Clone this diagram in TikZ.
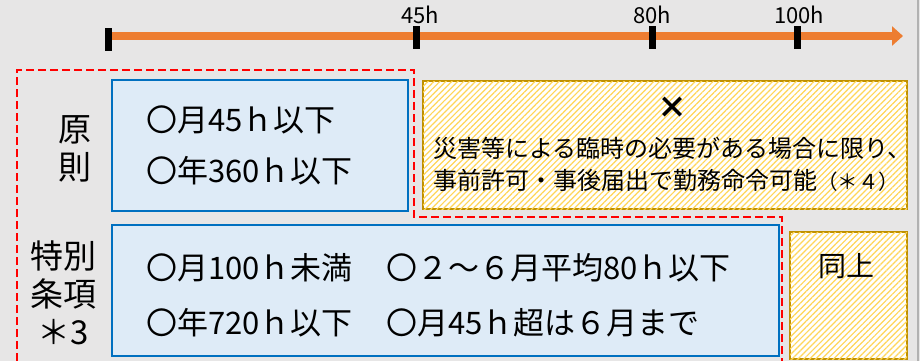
\documentclass[tikz,border=0pt]{standalone}
\usepackage{fontspec}
\setmainfont{Noto Sans CJK JP}
\usetikzlibrary{positioning, arrows.meta, patterns.meta}

\definecolor{bggray}{HTML}{E7E6E6}
\definecolor{axisorange}{HTML}{ED7D31}
\definecolor{boxblue}{HTML}{0070C0}
\definecolor{fillblue}{HTML}{DEEBF7}
\definecolor{boxgold}{HTML}{BF9000}
\definecolor{hatchyellow}{HTML}{FFD658}

\tikzset{
  tick/.style={fill=black, inner sep=0pt, minimum width=7pt, minimum height=23pt},
  hlabel/.style={font=\fontsize{22}{22}\selectfont, inner sep=0pt},
  bluebox/.style={draw=boxblue, fill=fillblue, line width=2pt, inner sep=0pt},
  hatchbox/.style={draw=boxgold, line width=2pt, fill=white, inner sep=0pt,
    postaction={pattern={Lines[angle=45, distance=4.2pt, line width=1.2pt]}, pattern color=hatchyellow}},
  rowtext/.style={anchor=west, inner sep=0pt, font=\fontsize{31}{31}\selectfont},
  sidetext/.style={inner sep=0pt, align=center, font=\fontsize{33}{38}\selectfont},
  notetext/.style={anchor=west, inner sep=0pt, font=\fontsize{24}{24}\selectfont},
}

\begin{document}
\begin{tikzpicture}[x=1pt, y=-1pt]
  \fill[bggray] (0,0) rectangle (920,361);
  \useasboundingbox (0,0) rectangle (920,361);
  \draw[gray!60, line width=1.5pt] (918,0) -- (918,361);

  % time axis
  \coordinate (axstart) at (108,36);
  \coordinate (axend) at (903,36);
  \draw[axisorange, line width=8pt, -{Triangle[length=11pt, width=19pt]}] (axstart) -- (axend);
  \node[tick] (t0) at (108,39.5) {};
  \node[tick] (t45) at (416,38) {};
  \node[tick] (t80) at (652,38) {};
  \node[tick] (t100) at (797,38) {};
  \node[hlabel, above=2pt of t45, xshift=4pt] (l45) {45h};
  \node[hlabel, above=2pt of t80] (l80) {80h};
  \node[hlabel, above=2pt of t100, xshift=2pt] (l100) {100h};

  % boxes
  \node[bluebox, minimum width=296pt, minimum height=131pt] (gensoku) at (260,145.5) {};
  \node[hatchbox, minimum width=484pt, minimum height=128pt] (rinji) at (665,145) {};
  \node[bluebox, minimum width=667pt, minimum height=131pt] (tokubetsu) at (445.5,290.5) {};
  \node[hatchbox, minimum width=117pt, minimum height=127pt] (dojo) at (848.5,295.5) {};

  \draw[red, line width=2pt, dash pattern=on 8pt off 4pt]
    (17,361) -- (17,70) -- (414,70) -- (414,217) -- (782,217) -- (782,361);

  % labels
  \node[sidetext] (gen) at (75,149) {原\\則};
  \node[sidetext] (toku) at (63,293) {特別\\条項\\＊3};

  \node[rowtext] (g1) at (146,120) {〇月45ｈ以下};
  \node[rowtext] (g2) at (146,171) {〇年360ｈ以下};
  \node[rowtext] (k1) at (146,268) {〇月100ｈ未満};
  \node[rowtext] (k2) at (146,323) {〇年720ｈ以下};
  \node[rowtext] (k3) at (386,268) {〇２～６月平均80ｈ以下};
  \node[rowtext] (k4) at (386,323) {〇月45ｈ超は６月まで};

  \node[inner sep=0pt, font=\fontsize{30}{30}\selectfont\bfseries] (batsu) at (672,108) {×};
  \node[notetext] (n1) at (433,148) {災害等による臨時の必要がある場合に限り、};
  \node[notetext] (n2) at (433,180) {事前許可・事後届出で勤務命令可能{\fontsize{20.5}{20.5}\selectfont（＊４）}};
  \node[inner sep=0pt, font=\fontsize{28}{28}\selectfont] (dojot) at (846,266) {同上};
\end{tikzpicture}
\end{document}
